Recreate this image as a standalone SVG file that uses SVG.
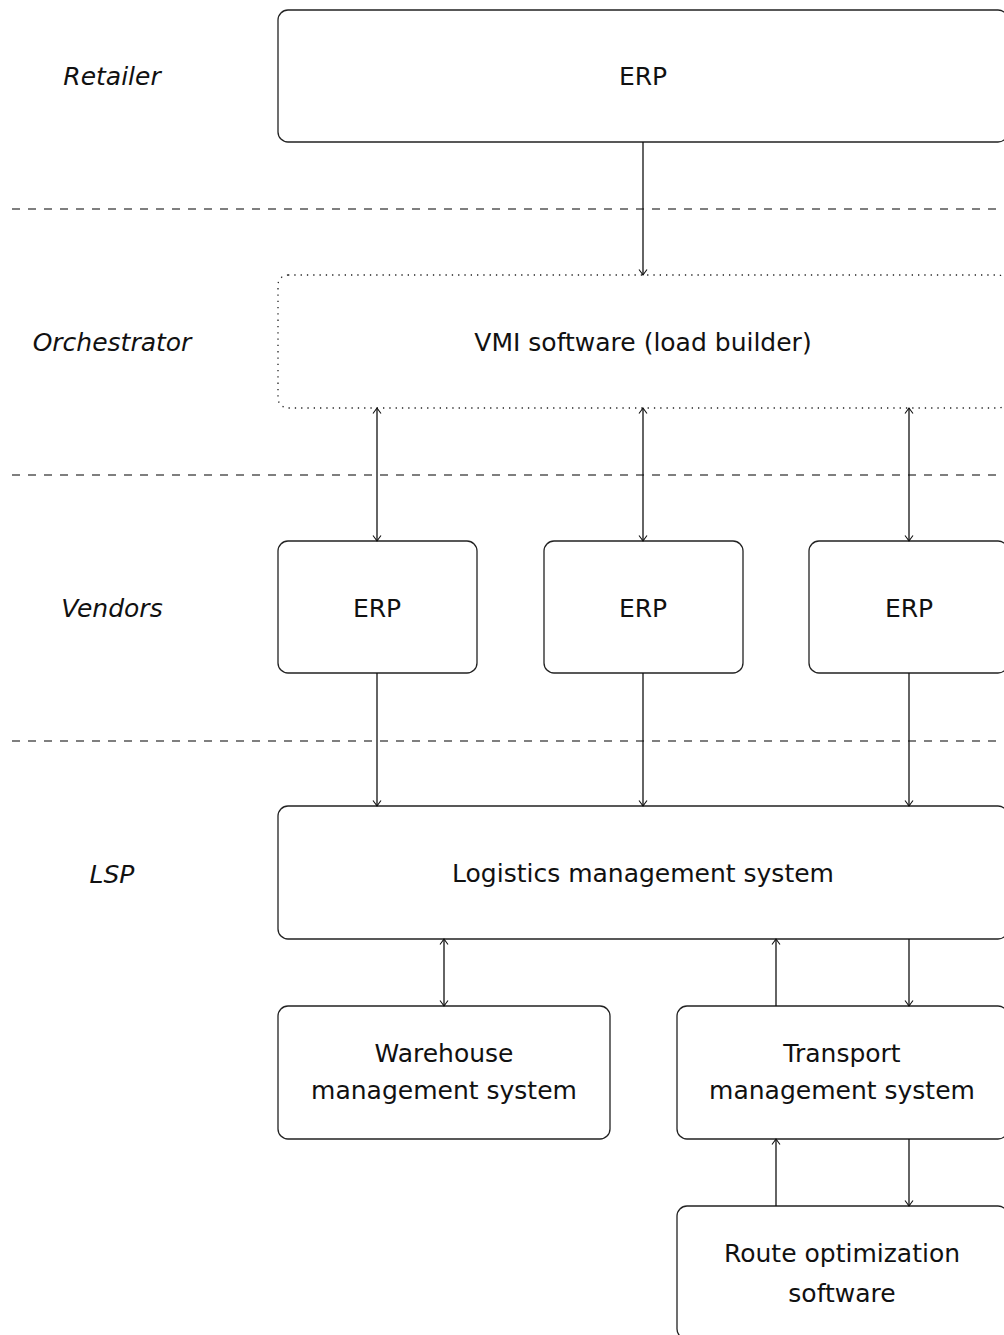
<svg xmlns="http://www.w3.org/2000/svg" width="1004" height="1335" viewBox="0 0 1004 1335">
<style>
.box{fill:none;stroke:#222;stroke-width:1.3}
.dot{fill:none;stroke:#222;stroke-width:1.3;stroke-dasharray:1.3 5}
.sep{stroke:#555;stroke-width:1.3;stroke-dasharray:8 8}
.c{stroke:#111;stroke-width:1.3;fill:none}
.t{font-family:"DejaVu Sans","Liberation Sans",sans-serif;font-size:25px;fill:#111;text-anchor:middle}
.lab{font-family:"DejaVu Sans","Liberation Sans",sans-serif;font-size:25px;font-style:italic;fill:#111;text-anchor:middle}
</style>
<defs>
<marker id="ah" viewBox="-7 -5 9 10" markerWidth="9" markerHeight="10" refX="0" refY="0" orient="auto-start-reverse" markerUnits="userSpaceOnUse">
<path d="M-5.5,-4 Q-1.5,-1 0,0 Q-1.5,1 -5.5,4" fill="none" stroke="#111" stroke-width="1.1"/>
</marker>
</defs>
<g id="labels">
<text class="lab" x="112" y="85">Retailer</text>
<text class="lab" x="112" y="351">Orchestrator</text>
<text class="lab" x="112" y="617">Vendors</text>
<text class="lab" x="112" y="883">LSP</text>
</g>
<g id="separators">
<line class="sep" x1="12" y1="209" x2="1004" y2="209"/>
<line class="sep" x1="12" y1="475" x2="1004" y2="475"/>
<line class="sep" x1="12" y1="741" x2="1004" y2="741"/>
</g>
<g id="retailer-erp">
<rect class="box" x="278" y="10" width="730" height="132" rx="10"/>
<text class="t" x="643" y="85">ERP</text>
</g>
<g id="vmi">
<rect class="dot" x="278" y="275" width="730" height="133" rx="10"/>
<text class="t" x="643" y="351">VMI software (load builder)</text>
</g>
<g id="vendor-erp-1">
<rect class="box" x="278" y="541" width="199" height="132" rx="10"/>
<text class="t" x="377" y="617">ERP</text>
</g>
<g id="vendor-erp-2">
<rect class="box" x="544" y="541" width="199" height="132" rx="10"/>
<text class="t" x="643" y="617">ERP</text>
</g>
<g id="vendor-erp-3">
<rect class="box" x="809" y="541" width="199" height="132" rx="10"/>
<text class="t" x="909" y="617">ERP</text>
</g>
<g id="lms">
<rect class="box" x="278" y="806" width="730" height="133" rx="10"/>
<text class="t" x="643" y="882">Logistics management system</text>
</g>
<g id="wms">
<rect class="box" x="278" y="1006" width="332" height="133" rx="10"/>
<text class="t" x="444" y="1062">Warehouse</text>
<text class="t" x="444" y="1099">management system</text>
</g>
<g id="tms">
<rect class="box" x="677" y="1006" width="331" height="133" rx="10"/>
<text class="t" x="842" y="1062">Transport</text>
<text class="t" x="842" y="1099">management system</text>
</g>
<g id="route">
<rect class="box" x="677" y="1206" width="331" height="133" rx="10"/>
<text class="t" x="842" y="1262">Route optimization</text>
<text class="t" x="842" y="1302">software</text>
</g>
<g id="connectors">
<line class="c" x1="643" y1="142" x2="643" y2="275" marker-end="url(#ah)"/>
<line class="c" x1="377" y1="408" x2="377" y2="541" marker-start="url(#ah)" marker-end="url(#ah)"/>
<line class="c" x1="643" y1="408" x2="643" y2="541" marker-start="url(#ah)" marker-end="url(#ah)"/>
<line class="c" x1="909" y1="408" x2="909" y2="541" marker-start="url(#ah)" marker-end="url(#ah)"/>
<line class="c" x1="377" y1="673" x2="377" y2="806" marker-end="url(#ah)"/>
<line class="c" x1="643" y1="673" x2="643" y2="806" marker-end="url(#ah)"/>
<line class="c" x1="909" y1="673" x2="909" y2="806" marker-end="url(#ah)"/>
<line class="c" x1="444" y1="939" x2="444" y2="1006" marker-start="url(#ah)" marker-end="url(#ah)"/>
<line class="c" x1="776" y1="1006" x2="776" y2="939" marker-end="url(#ah)"/>
<line class="c" x1="909" y1="939" x2="909" y2="1006" marker-end="url(#ah)"/>
<line class="c" x1="776" y1="1206" x2="776" y2="1139" marker-end="url(#ah)"/>
<line class="c" x1="909" y1="1139" x2="909" y2="1206" marker-end="url(#ah)"/>
</g>
</svg>
